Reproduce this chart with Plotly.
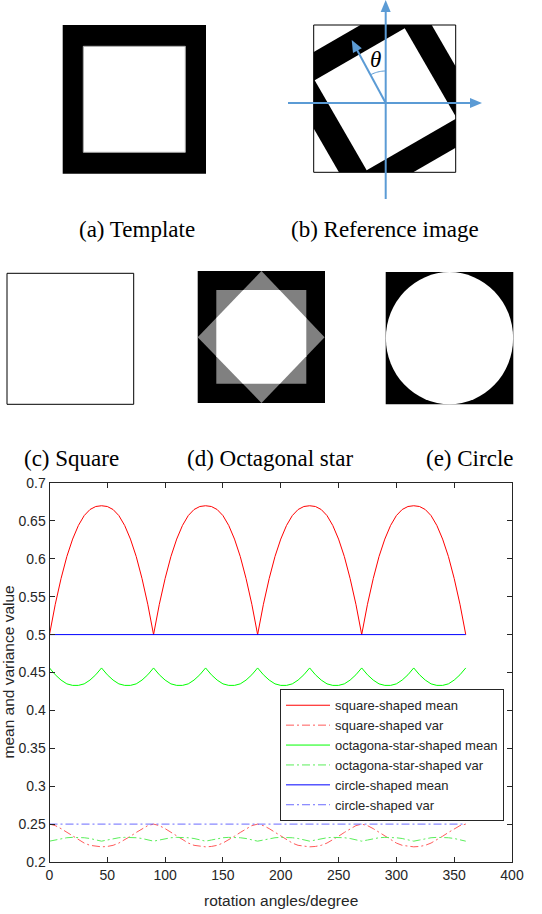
import math
import plotly.graph_objects as go

# ---------------- data ----------------
angles = list(range(0, 361, 5))

square_mean = [
    0.500, 0.540, 0.574, 0.603, 0.626, 0.644, 0.657, 0.665, 0.669, 0.670, 0.669, 0.665, 0.657, 0.644, 0.626, 0.603, 0.574, 0.540,
    0.500, 0.540, 0.574, 0.603, 0.626, 0.644, 0.657, 0.665, 0.669, 0.670, 0.669, 0.665, 0.657, 0.644, 0.626, 0.603, 0.574, 0.540,
    0.500, 0.540, 0.574, 0.603, 0.626, 0.644, 0.657, 0.665, 0.669, 0.670, 0.669, 0.665, 0.657, 0.644, 0.626, 0.603, 0.574, 0.540,
    0.500, 0.540, 0.574, 0.603, 0.626, 0.644, 0.657, 0.665, 0.669, 0.670, 0.669, 0.665, 0.657, 0.644, 0.626, 0.603, 0.574, 0.540,
    0.500]
square_var = [
    0.250, 0.248, 0.244, 0.239, 0.234, 0.229, 0.225, 0.222, 0.2205, 0.220, 0.2205, 0.222, 0.225, 0.229, 0.234, 0.239, 0.244, 0.248,
    0.250, 0.248, 0.244, 0.239, 0.234, 0.229, 0.225, 0.222, 0.2205, 0.220, 0.2205, 0.222, 0.225, 0.229, 0.234, 0.239, 0.244, 0.248,
    0.250, 0.248, 0.244, 0.239, 0.234, 0.229, 0.225, 0.222, 0.2205, 0.220, 0.2205, 0.222, 0.225, 0.229, 0.234, 0.239, 0.244, 0.248,
    0.250, 0.248, 0.244, 0.239, 0.234, 0.229, 0.225, 0.222, 0.2205, 0.220, 0.2205, 0.222, 0.225, 0.229, 0.234, 0.239, 0.244, 0.248,
    0.250]
octagon_mean = [
    0.456, 0.447, 0.440, 0.435, 0.433, 0.433, 0.435, 0.440, 0.447,
    0.456, 0.447, 0.440, 0.435, 0.433, 0.433, 0.435, 0.440, 0.447,
    0.456, 0.447, 0.440, 0.435, 0.433, 0.433, 0.435, 0.440, 0.447,
    0.456, 0.447, 0.440, 0.435, 0.433, 0.433, 0.435, 0.440, 0.447,
    0.456, 0.447, 0.440, 0.435, 0.433, 0.433, 0.435, 0.440, 0.447,
    0.456, 0.447, 0.440, 0.435, 0.433, 0.433, 0.435, 0.440, 0.447,
    0.456, 0.447, 0.440, 0.435, 0.433, 0.433, 0.435, 0.440, 0.447,
    0.456, 0.447, 0.440, 0.435, 0.433, 0.433, 0.435, 0.440, 0.447,
    0.456]
octagon_var = [
    0.2275, 0.229, 0.231, 0.232, 0.2325, 0.2325, 0.232, 0.231, 0.229,
    0.2275, 0.229, 0.231, 0.232, 0.2325, 0.2325, 0.232, 0.231, 0.229,
    0.2275, 0.229, 0.231, 0.232, 0.2325, 0.2325, 0.232, 0.231, 0.229,
    0.2275, 0.229, 0.231, 0.232, 0.2325, 0.2325, 0.232, 0.231, 0.229,
    0.2275, 0.229, 0.231, 0.232, 0.2325, 0.2325, 0.232, 0.231, 0.229,
    0.2275, 0.229, 0.231, 0.232, 0.2325, 0.2325, 0.232, 0.231, 0.229,
    0.2275, 0.229, 0.231, 0.232, 0.2325, 0.2325, 0.232, 0.231, 0.229,
    0.2275, 0.229, 0.231, 0.232, 0.2325, 0.2325, 0.232, 0.231, 0.229,
    0.2275]
circle_mean = [
    0.500, 0.500, 0.500, 0.500, 0.500, 0.500, 0.500, 0.500, 0.500, 0.4995, 0.500, 0.500, 0.500, 0.500, 0.500, 0.500, 0.500, 0.500,
    0.500, 0.500, 0.500, 0.500, 0.500, 0.500, 0.500, 0.500, 0.500, 0.4995, 0.500, 0.500, 0.500, 0.500, 0.500, 0.500, 0.500, 0.500,
    0.500, 0.500, 0.500, 0.500, 0.500, 0.500, 0.500, 0.500, 0.500, 0.4995, 0.500, 0.500, 0.500, 0.500, 0.500, 0.500, 0.500, 0.500,
    0.500, 0.500, 0.500, 0.500, 0.500, 0.500, 0.500, 0.500, 0.500, 0.4995, 0.500, 0.500, 0.500, 0.500, 0.500, 0.500, 0.500, 0.500,
    0.500]
circle_var = [0.250] * 73

series_names = ["square-shaped mean", "square-shaped var",
                "octagona-star-shaped mean", "octagona-star-shaped var",
                "circle-shaped mean", "circle-shaped var"]

x_tickvals = [0, 50, 100, 150, 200, 250, 300, 350, 400]
x_ticktext = ["0", "50", "100", "150", "200", "250", "300", "350", "400"]
y_tickvals = [0.2, 0.25, 0.3, 0.35, 0.4, 0.45, 0.5, 0.55, 0.6, 0.65, 0.7]
y_ticktext = ["0.2", "0.25", "0.3", "0.35", "0.4", "0.45", "0.5", "0.55", "0.6", "0.65", "0.7"]

captions = ["(a) Template", "(b) Reference image", "(c) Square", "(d) Octagonal star", "(e) Circle"]
x_title = "rotation angles/degree"
y_title = "mean and variance value"

# ---------------- layout helpers (pixel -> paper) ----------------
W, H = 542, 914


def px(x):
    return x / W


def py(y):
    return 1 - y / H


def path_of(pts):
    return "M " + " L ".join(f"{px(x):.5f},{py(y):.5f}" for x, y in pts) + " Z"


def clip_poly(poly, x0, y0, x1, y1):
    def clip(pts, inside, inter):
        out = []
        n = len(pts)
        for i in range(n):
            cur, prev = pts[i], pts[i - 1]
            if inside(cur):
                if not inside(prev):
                    out.append(inter(prev, cur))
                out.append(cur)
            elif inside(prev):
                out.append(inter(prev, cur))
        return out

    def ix(xc):
        return lambda a, b: (xc, a[1] + (b[1] - a[1]) * (xc - a[0]) / (b[0] - a[0]))

    def iy(yc):
        return lambda a, b: (a[0] + (b[0] - a[0]) * (yc - a[1]) / (b[1] - a[1]), yc)

    p = poly
    p = clip(p, lambda q: q[0] >= x0, ix(x0))
    p = clip(p, lambda q: q[0] <= x1, ix(x1))
    p = clip(p, lambda q: q[1] >= y0, iy(y0))
    p = clip(p, lambda q: q[1] <= y1, iy(y1))
    return p


def rot_square(cx, cy, h, deg):
    a = math.radians(deg)
    pts = []
    for dx, dy in [(-h, -h), (h, -h), (h, h), (-h, h)]:
        pts.append((cx + dx * math.cos(a) + dy * math.sin(a),
                    cy - dx * math.sin(a) + dy * math.cos(a)))
    return pts


shapes = []


def rect(x0, y0, x1, y1, fill, line_color=None, lw=0):
    shapes.append(dict(type="rect", xref="paper", yref="paper",
                       x0=px(x0), x1=px(x1), y0=py(y1), y1=py(y0),
                       fillcolor=fill, line=dict(color=line_color or fill, width=lw),
                       layer="above"))


def poly(pts, fill, line_color=None, lw=0):
    shapes.append(dict(type="path", xref="paper", yref="paper", path=path_of(pts),
                       fillcolor=fill, line=dict(color=line_color or fill, width=lw),
                       layer="above"))


def seg(x0, y0, x1, y1, color, lw):
    shapes.append(dict(type="line", xref="paper", yref="paper",
                       x0=px(x0), y0=py(y0), x1=px(x1), y1=py(y1),
                       line=dict(color=color, width=lw), layer="above"))


def arrow(x0, y0, x1, y1, color, lw=2, hl=12, hw=5):
    dx, dy = x1 - x0, y1 - y0
    L = math.hypot(dx, dy)
    ux, uy = dx / L, dy / L
    bx, by = x1 - ux * hl, y1 - uy * hl
    seg(x0, y0, bx + ux * 1, by + uy * 1, color, lw)
    poly([(x1, y1), (bx - uy * hw, by + ux * hw), (bx + uy * hw, by - ux * hw)], color)


# (a) template
rect(62.7, 25, 206, 173.7, "black")
rect(83.3, 46.3, 185.3, 152.3, "white", "#aaaaaa", 1)

# (b) reference image
bx0, by0, bx1, by1 = 313.7, 25, 455.7, 172.3
rect(bx0, by0, bx1, by1, "white")
outer = clip_poly(rot_square(385.7, 99.3, 77, 30), bx0, by0, bx1, by1)
poly(outer, "black")
poly(rot_square(385.7, 99.3, 52, 30), "white")
rect(bx0, by0, bx1, by1, "rgba(0,0,0,0)", "black", 1)
blue = "#5B9BD5"
ox, oy = 385.7, 103
arrow(ox, 199, ox, 0, blue)
arrow(288, oy, 482, oy, blue)
arrow(ox, oy, 351.7, 40, blue)
# theta arc
r = 32
a_end = math.atan2(40 - oy, 351.7 - ox)
a_start = -math.pi / 2
arc_pts = []
for i in range(13):
    t = a_start + (a_end - a_start) * i / 12
    arc_pts.append((ox + r * math.cos(t), oy + r * math.sin(t)))
shapes.append(dict(type="path", xref="paper", yref="paper",
                   path="M " + " L ".join(f"{px(x):.5f},{py(y):.5f}" for x, y in arc_pts),
                   line=dict(color=blue, width=1), layer="above"))

# (c) square
rect(7, 273.3, 133.7, 404.3, "white", "black", 1)

# (d) octagonal star
rect(197.7, 271, 325, 403, "black")
sq = [(216.3, 290), (306.3, 290), (306.3, 383.7), (216.3, 383.7)]
dia = [(261.5, 271), (324.6, 337.2), (261.5, 403), (197.7, 337.2)]
poly(sq, "#808080")
poly(dia, "#808080")
poly(clip_poly(dia, 216.3, 290, 306.3, 383.7), "white")

# (e) circle
rect(385.7, 272, 513.3, 404.3, "black")
shapes.append(dict(type="circle", xref="paper", yref="paper",
                   x0=px(385.9), x1=px(513.1), y0=py(404.2), y1=py(272.1),
                   fillcolor="white", line=dict(color="white", width=0), layer="above"))

# ---------------- figure ----------------
fig = go.Figure()
styles = [
    ("#ff0000", "solid"), ("#ff5a5a", "8px,3px,2px,3px"),
    ("#00ff00", "solid"), ("#5aee5a", "8px,3px,2px,3px"),
    ("#0000ff", "solid"), ("#6a6aff", "8px,3px,2px,3px"),
]
for name, ys, (col, dash) in zip(series_names,
                                 [square_mean, square_var, octagon_mean, octagon_var, circle_mean, circle_var],
                                 styles):
    fig.add_trace(go.Scatter(x=angles, y=ys, mode="lines", name=name,
                             line=dict(color=col, width=1, dash=dash)))

axis_col = "#262626"
sans = "Liberation Sans, Arial, sans-serif"
serif = "Liberation Serif, Times New Roman, serif"
ann = []
cap_font = dict(family=serif, size=23, color="black")
for text, cx, cy in zip(captions, [137, 385, 71, 270, 469], [230, 230, 458, 458, 458]):
    ann.append(dict(text=text, x=px(cx), y=py(cy), xref="paper", yref="paper",
                    showarrow=False, font=cap_font, xanchor="center", yanchor="middle"))
ann.append(dict(text="<i>θ</i>", x=px(375), y=py(59), xref="paper", yref="paper",
                showarrow=False, font=dict(family=serif, size=23, color="black"),
                xanchor="center", yanchor="middle"))
ann.append(dict(text=y_title, x=px(8), y=py(672.5), xref="paper", yref="paper", textangle=-90,
                showarrow=False, font=dict(family=sans, size=15.5, color=axis_col),
                xanchor="center", yanchor="middle"))
ann.append(dict(text=x_title, x=px(281), y=py(900), xref="paper", yref="paper",
                showarrow=False, font=dict(family=sans, size=15.5, color=axis_col),
                xanchor="center", yanchor="middle"))

x_left, x_right, y_top, y_bot = 49.5, 512, 483, 862
fig.update_layout(
    template="none",
    width=W, height=H,
    margin=dict(l=0, r=0, t=0, b=0),
    paper_bgcolor="white", plot_bgcolor="white",
    font=dict(family=sans, size=14, color=axis_col),
    xaxis=dict(domain=[px(x_left), px(x_right)], range=[0, 400],
               tickvals=x_tickvals, ticktext=x_ticktext,
               ticks="inside", ticklen=5, tickcolor=axis_col, tickwidth=1,
               showline=True, linecolor=axis_col, linewidth=1, mirror="ticks",
               showgrid=False, zeroline=False, automargin=False),
    yaxis=dict(domain=[py(y_bot), py(y_top)], range=[0.2, 0.7],
               tickvals=y_tickvals, ticktext=y_ticktext,
               ticks="inside", ticklen=5, tickcolor=axis_col, tickwidth=1,
               showline=True, linecolor=axis_col, linewidth=1, mirror="ticks",
               showgrid=False, zeroline=False, automargin=False),
    legend=dict(x=px(280), y=py(689.3), xanchor="left", yanchor="top",
                bgcolor="white", bordercolor=axis_col, borderwidth=1,
                itemwidth=44,
                font=dict(size=13, color=axis_col)),
    showlegend=True,
    shapes=shapes,
    annotations=ann,
)

fig.write_html("out.html", config={"displayModeBar": False},
               post_script="document.body.style.margin='0';")
